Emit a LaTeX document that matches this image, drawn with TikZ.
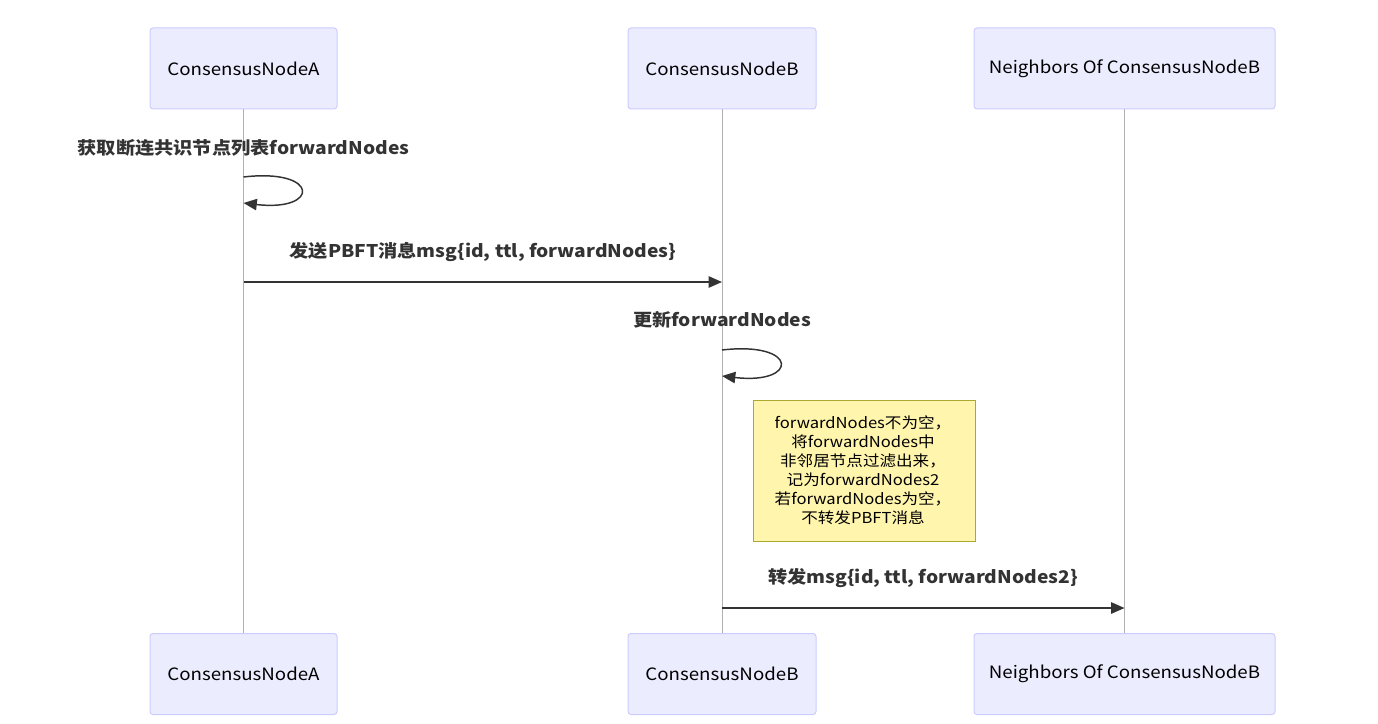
\documentclass[tikz,border=0pt]{standalone}
\usepackage{fontspec}
\setmainfont{Noto Sans CJK SC}
\newfontfamily\cjk{Noto Sans CJK SC}[FakeStretch=1.1]
\usetikzlibrary{arrows.meta}
\definecolor{actfill}{HTML}{ECECFF}
\definecolor{actline}{HTML}{CCCCFF}
\definecolor{notefill}{HTML}{FFF5AD}
\definecolor{noteline}{HTML}{AAAA33}
\definecolor{txt}{HTML}{333333}
\definecolor{life}{HTML}{B0B0B0}
\tikzset{
  actor/.style={draw=actline, fill=actfill, rounded corners=2.25pt, line width=0.75pt,
    minimum height=60.75pt, inner sep=0pt, font=\cjk\fontsize{12.75pt}{14pt}\selectfont, text=black},
  lifeline/.style={draw=life, line width=0.75pt},
  msg/.style={draw=txt, line width=1.1pt, -{Triangle[length=10pt,width=8.5pt]}},
  msglabel/.style={font=\cjk\bfseries\fontsize{13.1pt}{15pt}\selectfont, text=txt, inner sep=0pt},
  notebox/.style={draw=noteline, fill=notefill, line width=0.75pt, inner sep=0pt,
    minimum width=166.5pt, minimum height=105.75pt},
  notetext/.style={font=\cjk\fontsize{11.3pt}{14.25pt}\selectfont, text=black, align=center, inner sep=0pt}
}
\begin{document}
\begin{tikzpicture}[x=0.75pt,y=-0.75pt]
\useasboundingbox (0,0) rectangle (1378,724);
% actors top
\node[actor, minimum width=140.25pt] (At) at (243.5,68.5) {ConsensusNodeA};
\node[actor, minimum width=141pt] (Bt) at (722,68.5) {ConsensusNodeB};
\node[actor, minimum width=225.75pt] (Nt) at (1124.5,68.5) {Neighbors Of ConsensusNodeB};
% actors bottom
\node[actor, minimum width=140.25pt] (Ab) at (243.5,674) {ConsensusNodeA};
\node[actor, minimum width=141pt] (Bb) at (722,674) {ConsensusNodeB};
\node[actor, minimum width=225.75pt] (Nb) at (1124.5,674) {Neighbors Of ConsensusNodeB};
% lifelines
\draw[lifeline] (At.south) -- (Ab.north);
\draw[lifeline] (Bt.south) -- (Bb.north);
\draw[lifeline] (Nt.south) -- (Nb.north);
% self loop A
\node[msglabel] (l1) at (243.5,147.5) {获取断连共识节点列表forwardNodes};
\coordinate (a1s) at (243.5,177);
\coordinate (a1e) at (243.5,203);
\draw[msg] (a1s) .. controls (320,168) and (320,212) .. (a1e);
% message A -> B
\node[msglabel] (l2) at (483,252.5) {发送PBFT消息msg\{id, ttl, forwardNodes\}};
\coordinate (m1s) at (243.5,282);
\coordinate (m1e) at (722,282);
\draw[msg] (m1s) -- (m1e);
% self loop B
\node[msglabel] (l3) at (722,319.5) {更新forwardNodes};
\coordinate (b1s) at (722,350);
\coordinate (b1e) at (722,376);
\draw[msg] (b1s) .. controls (799,341) and (799,385) .. (b1e);
% note
\node[notebox] (note) at (864,470.5) {};
\node[notetext] (nt) at (863,470) {forwardNodes不为空，\\将forwardNodes中\\非邻居节点过滤出来，\\记为forwardNodes2\\若forwardNodes为空，\\不转发PBFT消息};
% message B -> N
\node[msglabel] (l4) at (923,578.5) {转发msg\{id, ttl, forwardNodes2\}};
\coordinate (m2s) at (722,608);
\coordinate (m2e) at (1124.5,608);
\draw[msg] (m2s) -- (m2e);
\end{tikzpicture}
\end{document}
